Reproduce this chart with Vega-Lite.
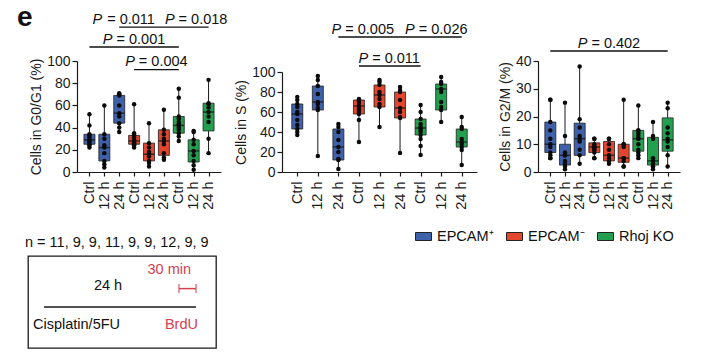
{
  "$schema": "https://vega.github.io/schema/vega-lite/v6.json",
  "padding": {"left": 17, "top": 3, "right": 5, "bottom": 5},
  "title": {"text": "e", "anchor": "start", "frame": "group", "fontSize": 28, "fontWeight": "bold", "font": "Liberation Sans", "color": "#111", "offset": -20, "dx": -11},
  "datasets": {
    "boxes": [
      {"panel": "G0/G1", "cond": 1, "group": "EPCAM⁺", "time": "Ctrl", "min": 22, "q1": 25, "med": 29, "q3": 34, "max": 52},
      {"panel": "G0/G1", "cond": 2, "group": "EPCAM⁺", "time": "12 h", "min": 4, "q1": 10, "med": 22, "q3": 34, "max": 60},
      {"panel": "G0/G1", "cond": 3, "group": "EPCAM⁺", "time": "24 h", "min": 36, "q1": 44, "med": 53, "q3": 69, "max": 71},
      {"panel": "G0/G1", "cond": 4, "group": "EPCAM⁻", "time": "Ctrl", "min": 22, "q1": 25, "med": 28, "q3": 33, "max": 61},
      {"panel": "G0/G1", "cond": 5, "group": "EPCAM⁻", "time": "12 h", "min": 5, "q1": 10, "med": 16, "q3": 26, "max": 44},
      {"panel": "G0/G1", "cond": 6, "group": "EPCAM⁻", "time": "24 h", "min": 11, "q1": 15, "med": 28, "q3": 38, "max": 56},
      {"panel": "G0/G1", "cond": 7, "group": "Rhoj KO", "time": "Ctrl", "min": 28, "q1": 35, "med": 42, "q3": 50, "max": 75},
      {"panel": "G0/G1", "cond": 8, "group": "Rhoj KO", "time": "12 h", "min": 2, "q1": 9, "med": 19, "q3": 29, "max": 37},
      {"panel": "G0/G1", "cond": 9, "group": "Rhoj KO", "time": "24 h", "min": 17, "q1": 37, "med": 54, "q3": 62, "max": 83},
      {"panel": "S", "cond": 1, "group": "EPCAM⁺", "time": "Ctrl", "min": 37, "q1": 43, "med": 58, "q3": 68, "max": 75},
      {"panel": "S", "cond": 2, "group": "EPCAM⁺", "time": "12 h", "min": 16, "q1": 62, "med": 70, "q3": 86, "max": 96},
      {"panel": "S", "cond": 3, "group": "EPCAM⁺", "time": "24 h", "min": 3, "q1": 12, "med": 25, "q3": 43, "max": 48},
      {"panel": "S", "cond": 4, "group": "EPCAM⁻", "time": "Ctrl", "min": 30, "q1": 58, "med": 66, "q3": 72, "max": 73},
      {"panel": "S", "cond": 5, "group": "EPCAM⁻", "time": "12 h", "min": 45, "q1": 65, "med": 77, "q3": 87, "max": 92},
      {"panel": "S", "cond": 6, "group": "EPCAM⁻", "time": "24 h", "min": 19, "q1": 54, "med": 64, "q3": 80, "max": 85},
      {"panel": "S", "cond": 7, "group": "Rhoj KO", "time": "Ctrl", "min": 17, "q1": 37, "med": 44, "q3": 53, "max": 67},
      {"panel": "S", "cond": 8, "group": "Rhoj KO", "time": "12 h", "min": 50, "q1": 62, "med": 83, "q3": 88, "max": 95},
      {"panel": "S", "cond": 9, "group": "Rhoj KO", "time": "24 h", "min": 7, "q1": 25, "med": 30, "q3": 43, "max": 55},
      {"panel": "G2/M", "cond": 1, "group": "EPCAM⁺", "time": "Ctrl", "min": 5, "q1": 7, "med": 10, "q3": 18, "max": 26},
      {"panel": "G2/M", "cond": 2, "group": "EPCAM⁺", "time": "12 h", "min": 1, "q1": 2.5, "med": 6, "q3": 10, "max": 25},
      {"panel": "G2/M", "cond": 3, "group": "EPCAM⁺", "time": "24 h", "min": 3, "q1": 6, "med": 12, "q3": 17.6, "max": 38},
      {"panel": "G2/M", "cond": 4, "group": "EPCAM⁻", "time": "Ctrl", "min": 5, "q1": 7, "med": 9, "q3": 10.5, "max": 12},
      {"panel": "G2/M", "cond": 5, "group": "EPCAM⁻", "time": "12 h", "min": 3, "q1": 4, "med": 6, "q3": 11, "max": 12},
      {"panel": "G2/M", "cond": 6, "group": "EPCAM⁻", "time": "24 h", "min": 2, "q1": 3.5, "med": 5, "q3": 10, "max": 26},
      {"panel": "G2/M", "cond": 7, "group": "Rhoj KO", "time": "Ctrl", "min": 5, "q1": 7.5, "med": 12, "q3": 15, "max": 24},
      {"panel": "G2/M", "cond": 8, "group": "Rhoj KO", "time": "12 h", "min": 1, "q1": 2.5, "med": 4, "q3": 12.5, "max": 18},
      {"panel": "G2/M", "cond": 9, "group": "Rhoj KO", "time": "24 h", "min": 2, "q1": 7.5, "med": 11.6, "q3": 19.5, "max": 25}
    ],
    "points": [
      {"panel": "G0/G1", "cond": 1, "v": 52}, {"panel": "G0/G1", "cond": 1, "v": 42}, {"panel": "G0/G1", "cond": 1, "v": 34}, {"panel": "G0/G1", "cond": 1, "v": 33}, {"panel": "G0/G1", "cond": 1, "v": 31}, {"panel": "G0/G1", "cond": 1, "v": 29}, {"panel": "G0/G1", "cond": 1, "v": 28}, {"panel": "G0/G1", "cond": 1, "v": 27}, {"panel": "G0/G1", "cond": 1, "v": 25}, {"panel": "G0/G1", "cond": 1, "v": 24}, {"panel": "G0/G1", "cond": 1, "v": 22},
      {"panel": "G0/G1", "cond": 2, "v": 60}, {"panel": "G0/G1", "cond": 2, "v": 34}, {"panel": "G0/G1", "cond": 2, "v": 30}, {"panel": "G0/G1", "cond": 2, "v": 24}, {"panel": "G0/G1", "cond": 2, "v": 22}, {"panel": "G0/G1", "cond": 2, "v": 17}, {"panel": "G0/G1", "cond": 2, "v": 10}, {"panel": "G0/G1", "cond": 2, "v": 7}, {"panel": "G0/G1", "cond": 2, "v": 4},
      {"panel": "G0/G1", "cond": 3, "v": 71}, {"panel": "G0/G1", "cond": 3, "v": 70}, {"panel": "G0/G1", "cond": 3, "v": 69}, {"panel": "G0/G1", "cond": 3, "v": 60}, {"panel": "G0/G1", "cond": 3, "v": 53}, {"panel": "G0/G1", "cond": 3, "v": 50}, {"panel": "G0/G1", "cond": 3, "v": 44}, {"panel": "G0/G1", "cond": 3, "v": 40}, {"panel": "G0/G1", "cond": 3, "v": 36},
      {"panel": "G0/G1", "cond": 4, "v": 61}, {"panel": "G0/G1", "cond": 4, "v": 35}, {"panel": "G0/G1", "cond": 4, "v": 33}, {"panel": "G0/G1", "cond": 4, "v": 31}, {"panel": "G0/G1", "cond": 4, "v": 29}, {"panel": "G0/G1", "cond": 4, "v": 28}, {"panel": "G0/G1", "cond": 4, "v": 27}, {"panel": "G0/G1", "cond": 4, "v": 26}, {"panel": "G0/G1", "cond": 4, "v": 25}, {"panel": "G0/G1", "cond": 4, "v": 24}, {"panel": "G0/G1", "cond": 4, "v": 22},
      {"panel": "G0/G1", "cond": 5, "v": 44}, {"panel": "G0/G1", "cond": 5, "v": 26}, {"panel": "G0/G1", "cond": 5, "v": 22}, {"panel": "G0/G1", "cond": 5, "v": 18}, {"panel": "G0/G1", "cond": 5, "v": 16}, {"panel": "G0/G1", "cond": 5, "v": 14}, {"panel": "G0/G1", "cond": 5, "v": 10}, {"panel": "G0/G1", "cond": 5, "v": 8}, {"panel": "G0/G1", "cond": 5, "v": 5},
      {"panel": "G0/G1", "cond": 6, "v": 56}, {"panel": "G0/G1", "cond": 6, "v": 38}, {"panel": "G0/G1", "cond": 6, "v": 34}, {"panel": "G0/G1", "cond": 6, "v": 30}, {"panel": "G0/G1", "cond": 6, "v": 28}, {"panel": "G0/G1", "cond": 6, "v": 25}, {"panel": "G0/G1", "cond": 6, "v": 17}, {"panel": "G0/G1", "cond": 6, "v": 13}, {"panel": "G0/G1", "cond": 6, "v": 11},
      {"panel": "G0/G1", "cond": 7, "v": 75}, {"panel": "G0/G1", "cond": 7, "v": 67}, {"panel": "G0/G1", "cond": 7, "v": 50}, {"panel": "G0/G1", "cond": 7, "v": 48}, {"panel": "G0/G1", "cond": 7, "v": 45}, {"panel": "G0/G1", "cond": 7, "v": 43}, {"panel": "G0/G1", "cond": 7, "v": 42}, {"panel": "G0/G1", "cond": 7, "v": 40}, {"panel": "G0/G1", "cond": 7, "v": 38}, {"panel": "G0/G1", "cond": 7, "v": 35}, {"panel": "G0/G1", "cond": 7, "v": 32}, {"panel": "G0/G1", "cond": 7, "v": 28},
      {"panel": "G0/G1", "cond": 8, "v": 37}, {"panel": "G0/G1", "cond": 8, "v": 36}, {"panel": "G0/G1", "cond": 8, "v": 29}, {"panel": "G0/G1", "cond": 8, "v": 25}, {"panel": "G0/G1", "cond": 8, "v": 19}, {"panel": "G0/G1", "cond": 8, "v": 15}, {"panel": "G0/G1", "cond": 8, "v": 10}, {"panel": "G0/G1", "cond": 8, "v": 6}, {"panel": "G0/G1", "cond": 8, "v": 2},
      {"panel": "G0/G1", "cond": 9, "v": 83}, {"panel": "G0/G1", "cond": 9, "v": 62}, {"panel": "G0/G1", "cond": 9, "v": 61}, {"panel": "G0/G1", "cond": 9, "v": 58}, {"panel": "G0/G1", "cond": 9, "v": 54}, {"panel": "G0/G1", "cond": 9, "v": 50}, {"panel": "G0/G1", "cond": 9, "v": 45}, {"panel": "G0/G1", "cond": 9, "v": 30}, {"panel": "G0/G1", "cond": 9, "v": 17},
      {"panel": "S", "cond": 1, "v": 75}, {"panel": "S", "cond": 1, "v": 72}, {"panel": "S", "cond": 1, "v": 68}, {"panel": "S", "cond": 1, "v": 65}, {"panel": "S", "cond": 1, "v": 60}, {"panel": "S", "cond": 1, "v": 58}, {"panel": "S", "cond": 1, "v": 52}, {"panel": "S", "cond": 1, "v": 47}, {"panel": "S", "cond": 1, "v": 43}, {"panel": "S", "cond": 1, "v": 40}, {"panel": "S", "cond": 1, "v": 37},
      {"panel": "S", "cond": 2, "v": 96}, {"panel": "S", "cond": 2, "v": 92}, {"panel": "S", "cond": 2, "v": 86}, {"panel": "S", "cond": 2, "v": 78}, {"panel": "S", "cond": 2, "v": 70}, {"panel": "S", "cond": 2, "v": 68}, {"panel": "S", "cond": 2, "v": 64}, {"panel": "S", "cond": 2, "v": 62}, {"panel": "S", "cond": 2, "v": 16},
      {"panel": "S", "cond": 3, "v": 48}, {"panel": "S", "cond": 3, "v": 45}, {"panel": "S", "cond": 3, "v": 40}, {"panel": "S", "cond": 3, "v": 32}, {"panel": "S", "cond": 3, "v": 25}, {"panel": "S", "cond": 3, "v": 20}, {"panel": "S", "cond": 3, "v": 13}, {"panel": "S", "cond": 3, "v": 12}, {"panel": "S", "cond": 3, "v": 3},
      {"panel": "S", "cond": 4, "v": 73}, {"panel": "S", "cond": 4, "v": 72}, {"panel": "S", "cond": 4, "v": 71}, {"panel": "S", "cond": 4, "v": 69}, {"panel": "S", "cond": 4, "v": 66}, {"panel": "S", "cond": 4, "v": 64}, {"panel": "S", "cond": 4, "v": 62}, {"panel": "S", "cond": 4, "v": 60}, {"panel": "S", "cond": 4, "v": 58}, {"panel": "S", "cond": 4, "v": 52}, {"panel": "S", "cond": 4, "v": 30},
      {"panel": "S", "cond": 5, "v": 92}, {"panel": "S", "cond": 5, "v": 90}, {"panel": "S", "cond": 5, "v": 87}, {"panel": "S", "cond": 5, "v": 80}, {"panel": "S", "cond": 5, "v": 77}, {"panel": "S", "cond": 5, "v": 73}, {"panel": "S", "cond": 5, "v": 68}, {"panel": "S", "cond": 5, "v": 65}, {"panel": "S", "cond": 5, "v": 45},
      {"panel": "S", "cond": 6, "v": 85}, {"panel": "S", "cond": 6, "v": 82}, {"panel": "S", "cond": 6, "v": 80}, {"panel": "S", "cond": 6, "v": 72}, {"panel": "S", "cond": 6, "v": 64}, {"panel": "S", "cond": 6, "v": 60}, {"panel": "S", "cond": 6, "v": 55}, {"panel": "S", "cond": 6, "v": 54}, {"panel": "S", "cond": 6, "v": 19},
      {"panel": "S", "cond": 7, "v": 67}, {"panel": "S", "cond": 7, "v": 60}, {"panel": "S", "cond": 7, "v": 53}, {"panel": "S", "cond": 7, "v": 48}, {"panel": "S", "cond": 7, "v": 45}, {"panel": "S", "cond": 7, "v": 44}, {"panel": "S", "cond": 7, "v": 42}, {"panel": "S", "cond": 7, "v": 40}, {"panel": "S", "cond": 7, "v": 37}, {"panel": "S", "cond": 7, "v": 33}, {"panel": "S", "cond": 7, "v": 26}, {"panel": "S", "cond": 7, "v": 17},
      {"panel": "S", "cond": 8, "v": 95}, {"panel": "S", "cond": 8, "v": 90}, {"panel": "S", "cond": 8, "v": 88}, {"panel": "S", "cond": 8, "v": 83}, {"panel": "S", "cond": 8, "v": 80}, {"panel": "S", "cond": 8, "v": 70}, {"panel": "S", "cond": 8, "v": 65}, {"panel": "S", "cond": 8, "v": 62}, {"panel": "S", "cond": 8, "v": 50},
      {"panel": "S", "cond": 9, "v": 55}, {"panel": "S", "cond": 9, "v": 45}, {"panel": "S", "cond": 9, "v": 43}, {"panel": "S", "cond": 9, "v": 33}, {"panel": "S", "cond": 9, "v": 30}, {"panel": "S", "cond": 9, "v": 28}, {"panel": "S", "cond": 9, "v": 25}, {"panel": "S", "cond": 9, "v": 22}, {"panel": "S", "cond": 9, "v": 7},
      {"panel": "G2/M", "cond": 1, "v": 26}, {"panel": "G2/M", "cond": 1, "v": 26}, {"panel": "G2/M", "cond": 1, "v": 18}, {"panel": "G2/M", "cond": 1, "v": 15}, {"panel": "G2/M", "cond": 1, "v": 12}, {"panel": "G2/M", "cond": 1, "v": 10}, {"panel": "G2/M", "cond": 1, "v": 9}, {"panel": "G2/M", "cond": 1, "v": 7}, {"panel": "G2/M", "cond": 1, "v": 6}, {"panel": "G2/M", "cond": 1, "v": 5}, {"panel": "G2/M", "cond": 1, "v": 5},
      {"panel": "G2/M", "cond": 2, "v": 25}, {"panel": "G2/M", "cond": 2, "v": 13}, {"panel": "G2/M", "cond": 2, "v": 7}, {"panel": "G2/M", "cond": 2, "v": 6}, {"panel": "G2/M", "cond": 2, "v": 6}, {"panel": "G2/M", "cond": 2, "v": 4}, {"panel": "G2/M", "cond": 2, "v": 3}, {"panel": "G2/M", "cond": 2, "v": 2}, {"panel": "G2/M", "cond": 2, "v": 1},
      {"panel": "G2/M", "cond": 3, "v": 38}, {"panel": "G2/M", "cond": 3, "v": 19}, {"panel": "G2/M", "cond": 3, "v": 16}, {"panel": "G2/M", "cond": 3, "v": 13}, {"panel": "G2/M", "cond": 3, "v": 12}, {"panel": "G2/M", "cond": 3, "v": 11}, {"panel": "G2/M", "cond": 3, "v": 8}, {"panel": "G2/M", "cond": 3, "v": 6}, {"panel": "G2/M", "cond": 3, "v": 3},
      {"panel": "G2/M", "cond": 4, "v": 12}, {"panel": "G2/M", "cond": 4, "v": 12}, {"panel": "G2/M", "cond": 4, "v": 10}, {"panel": "G2/M", "cond": 4, "v": 9}, {"panel": "G2/M", "cond": 4, "v": 9}, {"panel": "G2/M", "cond": 4, "v": 9}, {"panel": "G2/M", "cond": 4, "v": 8}, {"panel": "G2/M", "cond": 4, "v": 8}, {"panel": "G2/M", "cond": 4, "v": 7}, {"panel": "G2/M", "cond": 4, "v": 5}, {"panel": "G2/M", "cond": 4, "v": 5},
      {"panel": "G2/M", "cond": 5, "v": 12}, {"panel": "G2/M", "cond": 5, "v": 12}, {"panel": "G2/M", "cond": 5, "v": 10}, {"panel": "G2/M", "cond": 5, "v": 8}, {"panel": "G2/M", "cond": 5, "v": 6}, {"panel": "G2/M", "cond": 5, "v": 5}, {"panel": "G2/M", "cond": 5, "v": 4}, {"panel": "G2/M", "cond": 5, "v": 4}, {"panel": "G2/M", "cond": 5, "v": 3},
      {"panel": "G2/M", "cond": 6, "v": 26}, {"panel": "G2/M", "cond": 6, "v": 10}, {"panel": "G2/M", "cond": 6, "v": 10}, {"panel": "G2/M", "cond": 6, "v": 9}, {"panel": "G2/M", "cond": 6, "v": 5}, {"panel": "G2/M", "cond": 6, "v": 5}, {"panel": "G2/M", "cond": 6, "v": 4}, {"panel": "G2/M", "cond": 6, "v": 2}, {"panel": "G2/M", "cond": 6, "v": 2},
      {"panel": "G2/M", "cond": 7, "v": 24}, {"panel": "G2/M", "cond": 7, "v": 15}, {"panel": "G2/M", "cond": 7, "v": 15}, {"panel": "G2/M", "cond": 7, "v": 14}, {"panel": "G2/M", "cond": 7, "v": 13}, {"panel": "G2/M", "cond": 7, "v": 12}, {"panel": "G2/M", "cond": 7, "v": 12}, {"panel": "G2/M", "cond": 7, "v": 10}, {"panel": "G2/M", "cond": 7, "v": 8}, {"panel": "G2/M", "cond": 7, "v": 7}, {"panel": "G2/M", "cond": 7, "v": 6}, {"panel": "G2/M", "cond": 7, "v": 5},
      {"panel": "G2/M", "cond": 8, "v": 18}, {"panel": "G2/M", "cond": 8, "v": 13}, {"panel": "G2/M", "cond": 8, "v": 12}, {"panel": "G2/M", "cond": 8, "v": 5}, {"panel": "G2/M", "cond": 8, "v": 4}, {"panel": "G2/M", "cond": 8, "v": 3}, {"panel": "G2/M", "cond": 8, "v": 2}, {"panel": "G2/M", "cond": 8, "v": 2}, {"panel": "G2/M", "cond": 8, "v": 1},
      {"panel": "G2/M", "cond": 9, "v": 25}, {"panel": "G2/M", "cond": 9, "v": 23}, {"panel": "G2/M", "cond": 9, "v": 16}, {"panel": "G2/M", "cond": 9, "v": 14}, {"panel": "G2/M", "cond": 9, "v": 12}, {"panel": "G2/M", "cond": 9, "v": 11}, {"panel": "G2/M", "cond": 9, "v": 9}, {"panel": "G2/M", "cond": 9, "v": 6}, {"panel": "G2/M", "cond": 9, "v": 2}
    ],
    "pvals": [
      {"panel": "G0/G1", "stat": "= 0.011", "from": 3, "to": 6, "level": 130.6},
      {"panel": "G0/G1", "stat": "= 0.018", "from": 6, "to": 9, "level": 130.6},
      {"panel": "G0/G1", "stat": "= 0.001", "from": 1, "to": 7, "level": 112.6},
      {"panel": "G0/G1", "stat": "= 0.004", "from": 4, "to": 7, "level": 92.2},
      {"panel": "S", "stat": "= 0.005", "from": 3, "to": 6, "level": 135},
      {"panel": "S", "stat": "= 0.026", "from": 6, "to": 9, "level": 135},
      {"panel": "S", "stat": "= 0.011", "from": 4, "to": 7, "level": 106},
      {"panel": "G2/M", "stat": "= 0.402", "from": 1, "to": 9, "level": 43.6}
    ],
    "protocol": [
      {"kind": "treatment", "start": 0, "end": 24.5, "tier": "line"},
      {"kind": "pulse", "start": 24, "end": 24.5, "tier": "upper"},
      {"kind": "label", "label": "Cisplatin/5FU", "t": 0, "tier": "lower"},
      {"kind": "label", "label": "24 h", "t": 12, "tier": "upper"},
      {"kind": "label", "label": "30 min", "t": 24.5, "tier": "top"},
      {"kind": "label", "label": "BrdU", "t": 24.5, "tier": "lower"}
    ]
  },
  "bounds": "full",
  "spacing": 23,
  "vconcat": [
    {
      "bounds": "flush",
      "spacing": 61,
      "hconcat": [
        {
          "width": 193, "height": 111,
          "layer": [
            {"data": {"name": "boxes"}, "transform": [{"filter": "datum.panel == 'G0/G1'"}],
             "mark": {"type": "rule", "color": "#1a1a1a", "strokeWidth": 1},
             "encoding": {
               "x": {"field": "cond", "type": "quantitative", "scale": {"domain": [0.5, 9.5], "range": [49, 193], "nice": false, "zero": false}, "axis": {"title": null, "values": [1, 2, 3, 4, 5, 6, 7, 8, 9], "tickCount": 20, "labelExpr": "['Ctrl','12 h','24 h'][(datum.value - 1) % 3]", "labelOverlap": false, "labelFlush": false}},
               "y": {"field": "min", "type": "quantitative", "scale": {"domain": [0, 100], "nice": false}, "axis": {"title": "Cells in G0/G1 (%)", "values": [0, 20, 40, 60, 80, 100], "tickCount": 20, "offset": -49, "labelOverlap": false, "labelFlush": false}},
               "y2": {"field": "max"}}},
            {"data": {"name": "boxes"}, "transform": [{"filter": "datum.panel == 'G0/G1'"}],
             "mark": {"type": "bar", "width": 11, "stroke": "#222", "strokeWidth": 0.8},
             "encoding": {
               "x": {"field": "cond", "type": "quantitative"},
               "y": {"field": "q1", "type": "quantitative"},
               "y2": {"field": "q3"},
               "color": {"field": "group", "type": "nominal", "scale": {"domain": ["EPCAM⁺", "EPCAM⁻", "Rhoj KO"], "range": ["#3f60aa", "#e4452f", "#22a04f"]},
                 "legend": {"title": null, "orient": "none", "legendX": 387, "legendY": 167, "direction": "horizontal", "symbolType": "M-1,-0.5H1V0.5H-1Z", "symbolSize": 256, "symbolStrokeColor": "#222", "symbolStrokeWidth": 1, "labelFontSize": 14.5, "labelFont": "Liberation Sans", "labelColor": "#111", "labelOffset": 5, "columnPadding": 10}}}},
            {"data": {"name": "boxes"}, "transform": [{"filter": "datum.panel == 'G0/G1'"}],
             "mark": {"type": "tick", "orient": "horizontal", "color": "#111", "size": 11, "thickness": 1.5},
             "encoding": {
               "x": {"field": "cond", "type": "quantitative"},
               "y": {"field": "med", "type": "quantitative"}}},
            {"data": {"name": "points"}, "transform": [{"filter": "datum.panel == 'G0/G1'"}],
             "mark": {"type": "point", "filled": true, "color": "#0a0a0a", "size": 20, "opacity": 1},
             "encoding": {
               "x": {"field": "cond", "type": "quantitative"},
               "y": {"field": "v", "type": "quantitative"}}},
            {"data": {"name": "pvals"}, "transform": [{"filter": "datum.panel == 'G0/G1'"}],
             "mark": {"type": "rule", "color": "#111", "strokeWidth": 1.3},
             "encoding": {
               "x": {"field": "from", "type": "quantitative"},
               "x2": {"field": "to"},
               "y": {"field": "level", "type": "quantitative"}}},
            {"data": {"name": "pvals"},
             "transform": [{"filter": "datum.panel == 'G0/G1' && (datum.stat == '= 0.001' || datum.stat == '= 0.004')"}, {"fold": ["from", "to"], "as": ["end", "idx"]}, {"aggregate": [{"op": "mean", "field": "idx", "as": "mid"}], "groupby": ["stat", "level"]}],
             "mark": {"type": "text", "text": "P", "font": "Liberation Sans", "fontStyle": "italic", "fontSize": 14.5, "align": "right", "baseline": "alphabetic", "dx": -21.6, "dy": -3.5, "color": "#111"},
             "encoding": {"x": {"field": "mid", "type": "quantitative"}, "y": {"field": "level", "type": "quantitative"}}},
            {"data": {"name": "pvals"},
             "transform": [{"filter": "datum.panel == 'G0/G1' && (datum.stat == '= 0.001' || datum.stat == '= 0.004')"}, {"fold": ["from", "to"], "as": ["end", "idx"]}, {"aggregate": [{"op": "mean", "field": "idx", "as": "mid"}], "groupby": ["stat", "level"]}],
             "mark": {"type": "text", "font": "Liberation Sans", "fontSize": 14.5, "align": "left", "baseline": "alphabetic", "dx": -17.6, "dy": -3.5, "color": "#111"},
             "encoding": {"x": {"field": "mid", "type": "quantitative"}, "y": {"field": "level", "type": "quantitative"}, "text": {"field": "stat"}}},
            {"data": {"name": "pvals"}, "transform": [{"filter": "datum.panel == 'G0/G1' && datum.stat == '= 0.011'"}],
             "mark": {"type": "text", "text": "P", "font": "Liberation Sans", "fontStyle": "italic", "fontSize": 14.5, "align": "right", "baseline": "alphabetic", "dx": -61.8, "dy": -3.5, "color": "#111"},
             "encoding": {"x": {"field": "to", "type": "quantitative"}, "y": {"field": "level", "type": "quantitative"}}},
            {"data": {"name": "pvals"}, "transform": [{"filter": "datum.panel == 'G0/G1' && datum.stat == '= 0.011'"}],
             "mark": {"type": "text", "font": "Liberation Sans", "fontSize": 14.5, "align": "right", "baseline": "alphabetic", "dx": -9, "dy": -3.5, "color": "#111"},
             "encoding": {"x": {"field": "to", "type": "quantitative"}, "y": {"field": "level", "type": "quantitative"}, "text": {"field": "stat"}}},
            {"data": {"name": "pvals"}, "transform": [{"filter": "datum.panel == 'G0/G1' && datum.stat == '= 0.018'"}],
             "mark": {"type": "text", "text": "P", "font": "Liberation Sans", "fontStyle": "italic", "fontSize": 14.5, "align": "left", "baseline": "alphabetic", "dx": 1, "dy": -3.5, "color": "#111"},
             "encoding": {"x": {"field": "from", "type": "quantitative"}, "y": {"field": "level", "type": "quantitative"}}},
            {"data": {"name": "pvals"}, "transform": [{"filter": "datum.panel == 'G0/G1' && datum.stat == '= 0.018'"}],
             "mark": {"type": "text", "font": "Liberation Sans", "fontSize": 14.5, "align": "left", "baseline": "alphabetic", "dx": 14.7, "dy": -3.5, "color": "#111"},
             "encoding": {"x": {"field": "from", "type": "quantitative"}, "y": {"field": "level", "type": "quantitative"}, "text": {"field": "stat"}}}
          ]
        },
        {
          "width": 195, "height": 111,
          "layer": [
            {"data": {"name": "boxes"}, "transform": [{"filter": "datum.panel == 'S'"}],
             "mark": {"type": "rule", "color": "#1a1a1a", "strokeWidth": 1},
             "encoding": {
               "x": {"field": "cond", "type": "quantitative", "scale": {"domain": [0.5, 9.5], "nice": false, "zero": false}, "axis": {"title": null, "values": [1, 2, 3, 4, 5, 6, 7, 8, 9], "tickCount": 20, "labelExpr": "['Ctrl','12 h','24 h'][(datum.value - 1) % 3]", "labelOverlap": false, "labelFlush": false}},
               "y": {"field": "min", "type": "quantitative", "scale": {"domain": [0, 100], "range": [111, 11], "nice": false}, "axis": {"title": "Cells in S (%)", "values": [0, 20, 40, 60, 80, 100], "tickCount": 20, "labelOverlap": false, "labelFlush": false}},
               "y2": {"field": "max"}}},
            {"data": {"name": "boxes"}, "transform": [{"filter": "datum.panel == 'S'"}],
             "mark": {"type": "bar", "width": 11, "stroke": "#222", "strokeWidth": 0.8},
             "encoding": {
               "x": {"field": "cond", "type": "quantitative"},
               "y": {"field": "q1", "type": "quantitative"},
               "y2": {"field": "q3"},
               "color": {"field": "group", "type": "nominal", "scale": {"domain": ["EPCAM⁺", "EPCAM⁻", "Rhoj KO"], "range": ["#3f60aa", "#e4452f", "#22a04f"]}, "legend": null}}},
            {"data": {"name": "boxes"}, "transform": [{"filter": "datum.panel == 'S'"}],
             "mark": {"type": "tick", "orient": "horizontal", "color": "#111", "size": 11, "thickness": 1.5},
             "encoding": {"x": {"field": "cond", "type": "quantitative"}, "y": {"field": "med", "type": "quantitative"}}},
            {"data": {"name": "points"}, "transform": [{"filter": "datum.panel == 'S'"}],
             "mark": {"type": "point", "filled": true, "color": "#0a0a0a", "size": 20, "opacity": 1},
             "encoding": {"x": {"field": "cond", "type": "quantitative"}, "y": {"field": "v", "type": "quantitative"}}},
            {"data": {"name": "pvals"}, "transform": [{"filter": "datum.panel == 'S'"}],
             "mark": {"type": "rule", "color": "#111", "strokeWidth": 1.3},
             "encoding": {"x": {"field": "from", "type": "quantitative"}, "x2": {"field": "to"}, "y": {"field": "level", "type": "quantitative"}}},
            {"data": {"name": "pvals"},
             "transform": [{"filter": "datum.panel == 'S' && datum.stat == '= 0.011'"}, {"fold": ["from", "to"], "as": ["end", "idx"]}, {"aggregate": [{"op": "mean", "field": "idx", "as": "mid"}], "groupby": ["stat", "level"]}],
             "mark": {"type": "text", "text": "P", "font": "Liberation Sans", "fontStyle": "italic", "fontSize": 14.5, "align": "right", "baseline": "alphabetic", "dx": -21.6, "dy": -3.5, "color": "#111"},
             "encoding": {"x": {"field": "mid", "type": "quantitative"}, "y": {"field": "level", "type": "quantitative"}}},
            {"data": {"name": "pvals"},
             "transform": [{"filter": "datum.panel == 'S' && datum.stat == '= 0.011'"}, {"fold": ["from", "to"], "as": ["end", "idx"]}, {"aggregate": [{"op": "mean", "field": "idx", "as": "mid"}], "groupby": ["stat", "level"]}],
             "mark": {"type": "text", "font": "Liberation Sans", "fontSize": 14.5, "align": "left", "baseline": "alphabetic", "dx": -17.6, "dy": -3.5, "color": "#111"},
             "encoding": {"x": {"field": "mid", "type": "quantitative"}, "y": {"field": "level", "type": "quantitative"}, "text": {"field": "stat"}}},
            {"data": {"name": "pvals"}, "transform": [{"filter": "datum.panel == 'S' && datum.stat == '= 0.005'"}],
             "mark": {"type": "text", "text": "P", "font": "Liberation Sans", "fontStyle": "italic", "fontSize": 14.5, "align": "right", "baseline": "alphabetic", "dx": -58.8, "dy": -3.5, "color": "#111"},
             "encoding": {"x": {"field": "to", "type": "quantitative"}, "y": {"field": "level", "type": "quantitative"}}},
            {"data": {"name": "pvals"}, "transform": [{"filter": "datum.panel == 'S' && datum.stat == '= 0.005'"}],
             "mark": {"type": "text", "font": "Liberation Sans", "fontSize": 14.5, "align": "right", "baseline": "alphabetic", "dx": -6, "dy": -3.5, "color": "#111"},
             "encoding": {"x": {"field": "to", "type": "quantitative"}, "y": {"field": "level", "type": "quantitative"}, "text": {"field": "stat"}}},
            {"data": {"name": "pvals"}, "transform": [{"filter": "datum.panel == 'S' && datum.stat == '= 0.026'"}],
             "mark": {"type": "text", "text": "P", "font": "Liberation Sans", "fontStyle": "italic", "fontSize": 14.5, "align": "left", "baseline": "alphabetic", "dx": 5, "dy": -3.5, "color": "#111"},
             "encoding": {"x": {"field": "from", "type": "quantitative"}, "y": {"field": "level", "type": "quantitative"}}},
            {"data": {"name": "pvals"}, "transform": [{"filter": "datum.panel == 'S' && datum.stat == '= 0.026'"}],
             "mark": {"type": "text", "font": "Liberation Sans", "fontSize": 14.5, "align": "left", "baseline": "alphabetic", "dx": 18.7, "dy": -3.5, "color": "#111"},
             "encoding": {"x": {"field": "from", "type": "quantitative"}, "y": {"field": "level", "type": "quantitative"}, "text": {"field": "stat"}}}
          ]
        },
        {
          "width": 142, "height": 111,
          "layer": [
            {"data": {"name": "boxes"}, "transform": [{"filter": "datum.panel == 'G2/M'"}],
             "mark": {"type": "rule", "color": "#1a1a1a", "strokeWidth": 1},
             "encoding": {
               "x": {"field": "cond", "type": "quantitative", "scale": {"domain": [0.5, 9.5], "nice": false, "zero": false}, "axis": {"title": null, "values": [1, 2, 3, 4, 5, 6, 7, 8, 9], "tickCount": 20, "labelExpr": "['Ctrl','12 h','24 h'][(datum.value - 1) % 3]", "labelOverlap": false, "labelFlush": false}},
               "y": {"field": "min", "type": "quantitative", "scale": {"domain": [0, 40], "nice": false}, "axis": {"title": "Cells in G2/M (%)", "values": [0, 10, 20, 30, 40], "tickCount": 20, "labelOverlap": false, "labelFlush": false}},
               "y2": {"field": "max"}}},
            {"data": {"name": "boxes"}, "transform": [{"filter": "datum.panel == 'G2/M'"}],
             "mark": {"type": "bar", "width": 11, "stroke": "#222", "strokeWidth": 0.8},
             "encoding": {
               "x": {"field": "cond", "type": "quantitative"},
               "y": {"field": "q1", "type": "quantitative"},
               "y2": {"field": "q3"},
               "color": {"field": "group", "type": "nominal", "scale": {"domain": ["EPCAM⁺", "EPCAM⁻", "Rhoj KO"], "range": ["#3f60aa", "#e4452f", "#22a04f"]}, "legend": null}}},
            {"data": {"name": "boxes"}, "transform": [{"filter": "datum.panel == 'G2/M'"}],
             "mark": {"type": "tick", "orient": "horizontal", "color": "#111", "size": 11, "thickness": 1.5},
             "encoding": {"x": {"field": "cond", "type": "quantitative"}, "y": {"field": "med", "type": "quantitative"}}},
            {"data": {"name": "points"}, "transform": [{"filter": "datum.panel == 'G2/M'"}],
             "mark": {"type": "point", "filled": true, "color": "#0a0a0a", "size": 20, "opacity": 1},
             "encoding": {"x": {"field": "cond", "type": "quantitative"}, "y": {"field": "v", "type": "quantitative"}}},
            {"data": {"name": "pvals"}, "transform": [{"filter": "datum.panel == 'G2/M'"}],
             "mark": {"type": "rule", "color": "#111", "strokeWidth": 1.3},
             "encoding": {"x": {"field": "from", "type": "quantitative"}, "x2": {"field": "to"}, "y": {"field": "level", "type": "quantitative"}}},
            {"data": {"name": "pvals"},
             "transform": [{"filter": "datum.panel == 'G2/M'"}, {"fold": ["from", "to"], "as": ["end", "idx"]}, {"aggregate": [{"op": "mean", "field": "idx", "as": "mid"}], "groupby": ["stat", "level"]}],
             "mark": {"type": "text", "text": "P", "font": "Liberation Sans", "fontStyle": "italic", "fontSize": 14.5, "align": "right", "baseline": "alphabetic", "dx": -21.6, "dy": -3.5, "color": "#111"},
             "encoding": {"x": {"field": "mid", "type": "quantitative"}, "y": {"field": "level", "type": "quantitative"}}},
            {"data": {"name": "pvals"},
             "transform": [{"filter": "datum.panel == 'G2/M'"}, {"fold": ["from", "to"], "as": ["end", "idx"]}, {"aggregate": [{"op": "mean", "field": "idx", "as": "mid"}], "groupby": ["stat", "level"]}],
             "mark": {"type": "text", "font": "Liberation Sans", "fontSize": 14.5, "align": "left", "baseline": "alphabetic", "dx": -17.6, "dy": -3.5, "color": "#111"},
             "encoding": {"x": {"field": "mid", "type": "quantitative"}, "y": {"field": "level", "type": "quantitative"}, "text": {"field": "stat"}}}
          ]
        }
      ]
    },
    {
      "width": 188, "height": 92,
      "view": {"stroke": "#1a1a1a", "strokeWidth": 1.3},
      "title": {"text": "n = 11, 9, 9, 11, 9, 9, 12, 9, 9", "anchor": "start", "frame": "group", "fontSize": 14.5, "fontWeight": "normal", "font": "Liberation Sans", "color": "#111", "offset": 6, "dx": -3},
      "data": {"name": "protocol"},
      "encoding": {
        "y": {"field": "tier", "type": "ordinal", "scale": {"type": "point", "domain": ["top", "upper", "line", "lower"], "padding": 1.375, "align": 0.386}, "axis": null}
      },
      "layer": [
        {"transform": [{"filter": "datum.kind == 'treatment'"}],
         "mark": {"type": "rule", "color": "#1a1a1a", "strokeWidth": 1.3},
         "encoding": {"x": {"field": "start", "type": "quantitative", "scale": {"domain": [0, 24, 24.5], "range": [16, 151, 168], "nice": false, "zero": false}, "axis": null}, "x2": {"field": "end"}}},
        {"transform": [{"filter": "datum.kind == 'pulse'"}],
         "mark": {"type": "rule", "color": "#d6404f", "strokeWidth": 1.5},
         "encoding": {"x": {"field": "start", "type": "quantitative", "scale": {"domain": [0, 24, 24.5], "range": [16, 151, 168], "nice": false, "zero": false}, "axis": null}, "x2": {"field": "end"}}},
        {"transform": [{"filter": "datum.kind == 'pulse'"}, {"fold": ["start", "end"], "as": ["edge", "t"]}],
         "mark": {"type": "tick", "color": "#d6404f", "size": 9, "thickness": 1.5},
         "encoding": {"x": {"field": "t", "type": "quantitative", "scale": {"domain": [0, 24, 24.5], "range": [16, 151, 168], "nice": false, "zero": false}, "axis": null}}},
        {"transform": [{"filter": "datum.label == 'Cisplatin/5FU'"}],
         "mark": {"type": "text", "align": "left", "baseline": "middle", "dx": -11, "fontSize": 14.5, "font": "Liberation Sans", "color": "#111"},
         "encoding": {"x": {"field": "t", "type": "quantitative", "scale": {"domain": [0, 24, 24.5], "range": [16, 151, 168], "nice": false, "zero": false}, "axis": null}, "text": {"field": "label"}}},
        {"transform": [{"filter": "datum.label == '24 h'"}],
         "mark": {"type": "text", "align": "center", "baseline": "middle", "dx": -3.5, "dy": -3, "fontSize": 14.5, "font": "Liberation Sans", "color": "#111"},
         "encoding": {"x": {"field": "t", "type": "quantitative", "scale": {"domain": [0, 24, 24.5], "range": [16, 151, 168], "nice": false, "zero": false}, "axis": null}, "text": {"field": "label"}}},
        {"transform": [{"filter": "datum.label == '30 min'"}],
         "mark": {"type": "text", "align": "right", "baseline": "middle", "dx": -5, "fontSize": 14.5, "font": "Liberation Sans", "color": "#d6404f"},
         "encoding": {"x": {"field": "t", "type": "quantitative", "scale": {"domain": [0, 24, 24.5], "range": [16, 151, 168], "nice": false, "zero": false}, "axis": null}, "text": {"field": "label"}}},
        {"transform": [{"filter": "datum.label == 'BrdU'"}],
         "mark": {"type": "text", "align": "right", "baseline": "middle", "dx": 2, "fontSize": 14.5, "font": "Liberation Sans", "color": "#d6404f"},
         "encoding": {"x": {"field": "t", "type": "quantitative", "scale": {"domain": [0, 24, 24.5], "range": [16, 151, 168], "nice": false, "zero": false}, "axis": null}, "text": {"field": "label"}}}
      ]
    }
  ],
  "config": {
    "view": {"stroke": null},
    "font": "Liberation Sans",
    "axis": {"grid": false, "labelFont": "Liberation Sans", "titleFont": "Liberation Sans", "labelColor": "#1a1a1a", "titleColor": "#1a1a1a", "domainColor": "#1a1a1a", "tickColor": "#1a1a1a", "domainWidth": 1.2, "tickWidth": 1.2, "titleFontWeight": "normal", "labelOverlap": false, "labelFlush": false},
    "axisY": {"labelFontSize": 14, "titleFontSize": 14, "tickSize": 5, "labelPadding": 2, "titlePadding": 3},
    "axisX": {"labelFontSize": 14.5, "labelAngle": -90, "tickSize": 4, "labelPadding": 5}
  }
}
